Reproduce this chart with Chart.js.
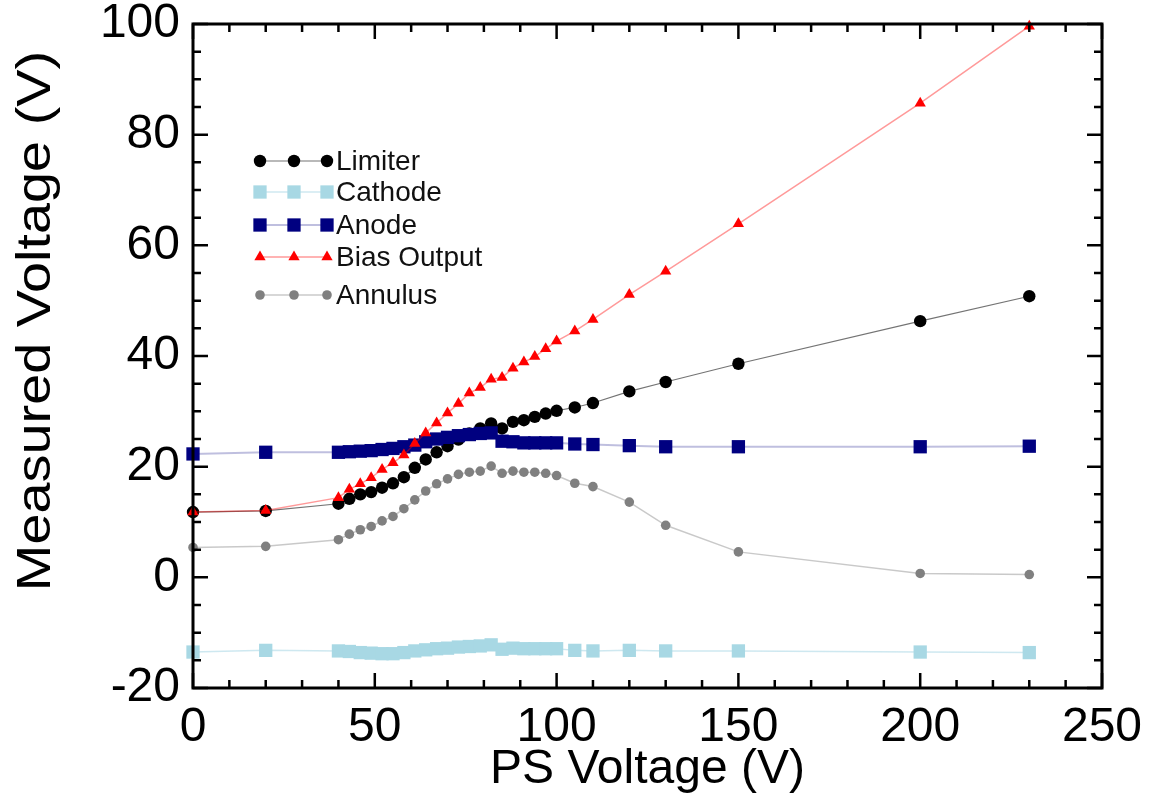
<!DOCTYPE html>
<html>
<head>
<meta charset="utf-8">
<script src="https://cdn.jsdelivr.net/npm/chart.js"></script>
<style>
  html, body { margin: 0; padding: 0; background: #fff; }
  #wrap { width: 1151px; height: 803px; }
</style>
</head>
<body>
<div id="wrap"><canvas id="chart"></canvas></div>
<script>
// PS supply voltage sweep (V)
const psVoltage = [0, 20, 40, 43, 46, 49, 52, 55, 58, 61, 64, 67, 70, 73, 76, 79, 82, 85, 88, 91, 94, 97, 100, 105, 110, 120, 130, 150, 200, 230];

// measured voltages (V)
const limiter = [11.8, 12.0, 13.3, 14.2, 15.0, 15.4, 16.2, 17.0, 18.1, 19.8, 21.3, 22.6, 23.7, 24.9, 26.0, 26.9, 27.8, 26.9, 28.1, 28.4, 29.0, 29.6, 30.1, 30.7, 31.5, 33.6, 35.3, 38.6, 46.3, 50.8];
const cathode = [-13.5, -13.2, -13.3, -13.4, -13.6, -13.7, -13.8, -13.8, -13.6, -13.3, -13.1, -12.9, -12.8, -12.6, -12.5, -12.4, -12.2, -13.0, -12.8, -12.9, -12.9, -12.9, -12.9, -13.2, -13.3, -13.2, -13.3, -13.3, -13.5, -13.6];
const anode = [22.3, 22.6, 22.6, 22.7, 22.8, 22.9, 23.1, 23.3, 23.6, 23.9, 24.5, 25.0, 25.3, 25.6, 25.8, 26.0, 26.1, 24.6, 24.5, 24.3, 24.3, 24.3, 24.3, 24.1, 24.0, 23.8, 23.6, 23.6, 23.6, 23.7];
const biasOutput = [11.8, 12.1, 14.4, 15.9, 16.9, 18.0, 19.5, 20.7, 22.1, 24.2, 26.1, 27.9, 29.7, 31.4, 33.3, 34.3, 35.8, 36.1, 37.8, 38.9, 39.9, 41.3, 42.7, 44.5, 46.6, 51.1, 55.3, 63.9, 85.7, 99.6];
const annulus = [5.4, 5.6, 6.8, 7.8, 8.6, 9.2, 10.2, 11.0, 12.4, 14.0, 15.6, 16.9, 17.8, 18.6, 19.0, 19.2, 20.1, 18.8, 19.2, 19.0, 19.0, 18.8, 18.4, 17.0, 16.4, 13.6, 9.4, 4.6, 0.7, 0.5];

const xTicks = [0, 50, 100, 150, 200, 250];
const yTicks = [-20, 0, 20, 40, 60, 80, 100];

const FONT = "'Liberation Sans', Arial, Helvetica, sans-serif";
const Y_TITLE = "Measured Voltage (V)";

function pts(ys) {
  return psVoltage.map((x, i) => ({ x: x, y: ys[i] }));
}

function series(label, ys, style) {
  return Object.assign({
    label: label,
    data: pts(ys),
    showLine: true,
    clip: false,
    pointBorderWidth: 0,
  }, style);
}

const datasets = [
  series("Limiter", limiter, {
    borderColor: "rgba(0,0,0,0.55)", borderWidth: 1.2,
    pointBackgroundColor: "#000", pointBorderColor: "#000",
    pointStyle: "circle", pointRadius: 6.2, order: 2,
  }),
  series("Cathode", cathode, {
    borderColor: "rgba(173,216,230,0.6)", borderWidth: 1.5,
    pointBackgroundColor: "#a8d8e4", pointBorderColor: "#a8d8e4",
    pointStyle: "rect", pointRadius: 9.4, order: 3,
  }),
  series("Anode", anode, {
    borderColor: "rgba(0,0,128,0.25)", borderWidth: 2,
    pointBackgroundColor: "#000080", pointBorderColor: "#000080",
    pointStyle: "rect", pointRadius: 9.4, order: 1,
  }),
  series("Bias Output", biasOutput, {
    borderColor: "rgba(255,0,0,0.4)", borderWidth: 1.5,
    pointBackgroundColor: "#ff0000", pointBorderColor: "#ff0000",
    pointStyle: "triangle", pointRadius: 6.5, order: 0,
  }),
  series("Annulus", annulus, {
    borderColor: "rgba(120,120,120,0.4)", borderWidth: 1.5,
    pointBackgroundColor: "#808080", pointBorderColor: "#808080",
    pointStyle: "circle", pointRadius: 4.8, order: 4,
  }),
];

// boxed frame with inward major/minor ticks on all four sides
const framePlugin = {
  id: "frame",
  afterDatasetsDraw(chart) {
    const { ctx, chartArea: a, scales } = chart;
    const xs = scales.x, ys = scales.y;
    ctx.save();
    ctx.strokeStyle = "#000";
    ctx.lineWidth = 2.5;
    for (let v = 0; v <= 250; v += 10) {
      const px = xs.getPixelForValue(v);
      const len = v % 50 === 0 ? 15 : 8;
      ctx.beginPath();
      ctx.moveTo(px, a.bottom); ctx.lineTo(px, a.bottom - len);
      ctx.moveTo(px, a.top); ctx.lineTo(px, a.top + len);
      ctx.stroke();
    }
    for (let v = -20; v <= 100; v += 5) {
      const py = ys.getPixelForValue(v);
      const len = v % 20 === 0 ? 15 : 8;
      ctx.beginPath();
      ctx.moveTo(a.left, py); ctx.lineTo(a.left + len, py);
      ctx.moveTo(a.right, py); ctx.lineTo(a.right - len, py);
      ctx.stroke();
    }
    ctx.lineWidth = 3;
    ctx.strokeRect(a.left, a.top, a.right - a.left, a.bottom - a.top);
    ctx.restore();
  },
};

// rotated y title, stretched along its length
const yTitlePlugin = {
  id: "yTitle",
  afterDraw(chart) {
    const { ctx } = chart;
    ctx.save();
    ctx.translate(36, 321);
    ctx.rotate(-Math.PI / 2);
    ctx.scale(1.14, 1);
    ctx.font = "49px " + FONT;
    ctx.fillStyle = "#000";
    ctx.textAlign = "center";
    ctx.textBaseline = "middle";
    ctx.fillText(Y_TITLE, 0, 0);
    ctx.restore();
  },
};

// legend with three markers per entry, inside the plot
const legendPlugin = {
  id: "sampleLegend",
  afterDraw(chart) {
    const { ctx } = chart;
    const rows = [161, 192, 225, 257, 295];
    const markX = [260, 294, 327];
    ctx.save();
    chart.data.datasets.forEach((ds, i) => {
      const y = rows[i];
      ctx.strokeStyle = ds.borderColor;
      ctx.lineWidth = ds.borderWidth;
      ctx.beginPath();
      ctx.moveTo(markX[0], y);
      ctx.lineTo(markX[2], y);
      ctx.stroke();
      ctx.fillStyle = ds.pointBackgroundColor;
      ctx.strokeStyle = ds.pointBorderColor;
      markX.forEach((mx) => {
        Chart.helpers.drawPoint(ctx, {
          pointStyle: ds.pointStyle,
          radius: ds.pointRadius,
          rotation: 0,
          borderWidth: 0,
        }, mx, y);
      });
      ctx.fillStyle = "#111";
      ctx.font = "28px " + FONT;
      ctx.textBaseline = "middle";
      ctx.textAlign = "left";
      ctx.fillText(ds.label, 336, y + 1);
    });
    ctx.restore();
  },
};

new Chart(document.getElementById("chart").getContext("2d"), {
  type: "scatter",
  data: { datasets: datasets },
  options: {
    responsive: true,
    maintainAspectRatio: false,
    animation: false,
    layout: { padding: { left: 0, right: 49, top: 24, bottom: 0 } },
    plugins: {
      legend: { display: false },
      tooltip: { enabled: false },
    },
    scales: {
      x: {
        type: "linear",
        min: 0,
        max: 250,
        border: { display: false },
        grid: { display: false, drawTicks: false },
        afterBuildTicks: (s) => { s.ticks = xTicks.map((v) => ({ value: v })); },
        afterFit: (s) => { s.height = 115; s.paddingLeft = 0; s.paddingRight = 0; },
        ticks: {
          padding: 11,
          color: "#000",
          font: { family: FONT, size: 48 },
          maxRotation: 0,
        },
        title: {
          display: true,
          text: "PS Voltage (V)",
          color: "#000",
          font: { family: FONT, size: 48 },
          padding: { top: 0, bottom: 4 },
        },
      },
      y: {
        type: "linear",
        min: -20,
        max: 100,
        border: { display: false },
        grid: { display: false, drawTicks: false },
        afterBuildTicks: (s) => { s.ticks = yTicks.map((v) => ({ value: v })); },
        afterFit: (s) => { s.width = 193; s.paddingTop = 0; s.paddingBottom = 0; },
        ticks: {
          padding: 13,
          color: "#000",
          font: { family: FONT, size: 48 },
        },
        title: { display: false },
      },
    },
  },
  plugins: [framePlugin, yTitlePlugin, legendPlugin],
});
</script>
</body>
</html>
